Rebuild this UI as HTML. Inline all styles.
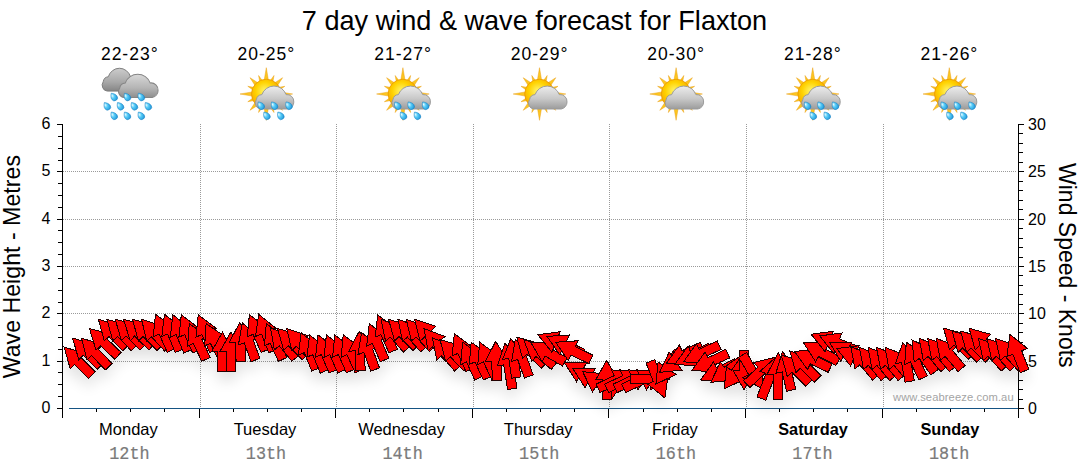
<!DOCTYPE html><html><head><meta charset="utf-8"><style>html,body{margin:0;padding:0;background:#fff;width:1080px;height:475px;overflow:hidden}svg{display:block}text{font-family:"Liberation Sans",sans-serif}</style></head><body>
<svg width="1080" height="475" viewBox="0 0 1080 475">
<defs>
<linearGradient id="cl" x1="0" y1="0" x2="0" y2="1"><stop offset="0" stop-color="#e6e6e6"/><stop offset="1" stop-color="#9a9a9a"/></linearGradient>
<linearGradient id="clb" x1="0" y1="0" x2="0" y2="1"><stop offset="0" stop-color="#b4b4b4"/><stop offset="1" stop-color="#7c7c7c"/></linearGradient>
<radialGradient id="sun" cx="0.45" cy="0.4" r="0.6"><stop offset="0" stop-color="#ffee30"/><stop offset="0.7" stop-color="#fbc80a"/><stop offset="1" stop-color="#f0a000"/></radialGradient>
<linearGradient id="ray" x1="0" y1="0" x2="0" y2="1"><stop offset="0" stop-color="#fde050"/><stop offset="1" stop-color="#f2a010"/></linearGradient>
<radialGradient id="drop" cx="0.4" cy="0.35" r="0.7"><stop offset="0" stop-color="#b8ecff"/><stop offset="0.5" stop-color="#38b8f0"/><stop offset="1" stop-color="#1480c0"/></radialGradient>
<filter id="shd" x="-20%" y="-50%" width="140%" height="200%"><feGaussianBlur stdDeviation="7"/></filter>
</defs>
<text x="534.5" y="29.6" font-size="27.1" text-anchor="middle" fill="#000">7 day wind &amp; wave forecast for Flaxton</text>
<text x="129.8" y="59.5" font-size="17.5" letter-spacing="1" text-anchor="middle" fill="#000">22-23°</text>
<text x="266.4" y="59.5" font-size="17.5" letter-spacing="1" text-anchor="middle" fill="#000">20-25°</text>
<text x="403.1" y="59.5" font-size="17.5" letter-spacing="1" text-anchor="middle" fill="#000">21-27°</text>
<text x="539.6" y="59.5" font-size="17.5" letter-spacing="1" text-anchor="middle" fill="#000">20-29°</text>
<text x="676.2" y="59.5" font-size="17.5" letter-spacing="1" text-anchor="middle" fill="#000">20-30°</text>
<text x="812.9" y="59.5" font-size="17.5" letter-spacing="1" text-anchor="middle" fill="#000">21-28°</text>
<text x="949.5" y="59.5" font-size="17.5" letter-spacing="1" text-anchor="middle" fill="#000">21-26°</text>
<path d="M63 361.5H1016 M63 313.5H1016 M63 266.5H1016 M63 219.5H1016 M63 171.5H1016 M200.5 124V408 M336.5 124V408 M473.5 124V408 M609.5 124V408 M746.5 124V408 M883.5 124V408" stroke="#9a9a9a" stroke-width="1" stroke-dasharray="1,1" fill="none"/>
<path d="M62.5 124V418 M57 408.5H62 M58 396.5H62 M58 384.5H62 M58 372.5H62 M57 361.5H62 M58 349.5H62 M58 337.5H62 M58 325.5H62 M57 313.5H62 M58 302.5H62 M58 290.5H62 M58 278.5H62 M57 266.5H62 M58 254.5H62 M58 242.5H62 M58 230.5H62 M57 219.5H62 M58 207.5H62 M58 195.5H62 M58 183.5H62 M57 171.5H62 M58 160.5H62 M58 148.5H62 M58 136.5H62 M57 124.5H62 M1018.5 124V408.5 M1019 408.5H1024 M1019 399.5H1023 M1019 389.5H1023 M1019 380.5H1023 M1019 370.5H1023 M1019 361.5H1024 M1019 351.5H1023 M1019 342.5H1023 M1019 332.5H1023 M1019 323.5H1023 M1019 313.5H1024 M1019 304.5H1023 M1019 294.5H1023 M1019 285.5H1023 M1019 275.5H1023 M1019 266.5H1024 M1019 257.5H1023 M1019 247.5H1023 M1019 238.5H1023 M1019 228.5H1023 M1019 219.5H1024 M1019 209.5H1023 M1019 200.5H1023 M1019 190.5H1023 M1019 181.5H1023 M1019 171.5H1024 M1019 162.5H1023 M1019 152.5H1023 M1019 143.5H1023 M1019 133.5H1023 M1019 124.5H1024 M62.5 408V418 M96.5 408V412 M130.5 408V412 M164.5 408V412 M199.5 408V418 M233.5 408V412 M267.5 408V412 M301.5 408V412 M335.5 408V418 M369.5 408V412 M403.5 408V412 M438.5 408V412 M472.5 408V418 M506.5 408V412 M540.5 408V412 M574.5 408V412 M608.5 408V418 M643.5 408V412 M677.5 408V412 M711.5 408V412 M745.5 408V418 M779.5 408V412 M813.5 408V412 M847.5 408V412 M882.5 408V418 M916.5 408V412 M950.5 408V412 M984.5 408V412 M1018.5 408V418" stroke="#000" stroke-width="1" fill="none"/>
<path d="M69 408.5H1018" stroke="#155383" stroke-width="1" fill="none"/>
<g filter="url(#shd)" opacity="0.12" transform="translate(0,9)"><path d="M64.2,347.2L85.7,353.3L81.3,357.7L95.3,371.8L88.7,378.5L74.6,364.4L70.2,368.8Z" fill="#000"/><path d="M72.6,338.2L94.2,344.0L89.8,348.5L104.0,362.5L97.4,369.2L83.2,355.2L78.8,359.7Z" fill="#000"/><path d="M81.6,338.2L103.0,344.8L98.4,349.1L112.1,363.6L105.3,370.0L91.6,355.6L87.1,359.9Z" fill="#000"/><path d="M89.5,328.6L111.2,334.1L106.8,338.7L121.2,352.4L114.7,359.2L100.3,345.5L96.0,350.0Z" fill="#000"/><path d="M98.4,319.3L119.9,325.4L115.4,329.9L129.4,344.0L122.8,350.6L108.8,336.5L104.3,340.9Z" fill="#000"/><path d="M106.9,319.3L128.4,325.4L124.0,329.8L138.0,344.0L131.3,350.6L117.3,336.5L112.8,340.9Z" fill="#000"/><path d="M115.2,319.3L136.8,325.0L132.5,329.5L146.7,343.4L140.2,350.1L125.9,336.2L121.5,340.7Z" fill="#000"/><path d="M123.6,319.3L145.3,324.8L141.0,329.4L155.4,343.1L148.9,349.9L134.5,336.2L130.1,340.7Z" fill="#000"/><path d="M132.4,319.3L154.0,325.2L149.6,329.7L163.7,343.7L157.1,350.4L142.9,336.4L138.5,340.9Z" fill="#000"/><path d="M141.5,319.3L162.8,326.1L158.2,330.3L171.8,344.9L164.9,351.3L151.4,336.8L146.8,341.1Z" fill="#000"/><path d="M155.5,314.3L173.4,327.7L167.7,330.2L175.8,348.4L167.2,352.2L159.1,334.0L153.3,336.6Z" fill="#000"/><path d="M164.5,314.3L182.1,328.1L176.3,330.5L183.9,348.9L175.2,352.5L167.6,334.1L161.8,336.5Z" fill="#000"/><path d="M172.9,314.8L190.6,328.6L184.8,331.0L192.5,349.3L183.8,353.0L176.1,334.6L170.3,337.1Z" fill="#000"/><path d="M181.3,314.8L199.1,328.4L193.3,330.9L201.2,349.1L192.6,352.9L184.7,334.6L178.9,337.1Z" fill="#000"/><path d="M189.3,323.6L207.5,336.7L201.8,339.3L210.2,357.4L201.7,361.3L193.3,343.3L187.6,346.0Z" fill="#000"/><path d="M198.2,314.8L216.1,328.2L210.4,330.7L218.4,348.9L209.8,352.7L201.8,334.5L196.0,337.1Z" fill="#000"/><path d="M206.1,323.6L224.5,336.3L218.8,339.1L227.5,357.0L219.1,361.1L210.4,343.2L204.7,345.9Z" fill="#000"/><path d="M222.5,332.2L233.5,351.7L227.2,351.7L227.2,371.6L217.8,371.6L217.8,351.7L211.5,351.7Z" fill="#000"/><path d="M230.8,332.2L241.8,351.7L235.5,351.7L235.5,371.6L226.1,371.6L226.1,351.7L219.8,351.7Z" fill="#000"/><path d="M239.8,322.5L251.3,341.7L245.0,341.9L245.5,361.8L236.1,362.0L235.6,342.1L229.3,342.3Z" fill="#000"/><path d="M242.3,322.9L259.2,337.7L253.2,339.8L259.8,358.5L251.0,361.6L244.3,342.9L238.4,345.0Z" fill="#000"/><path d="M249.4,314.6L267.4,328.0L261.6,330.5L269.7,348.7L261.1,352.5L253.0,334.3L247.2,336.9Z" fill="#000"/><path d="M258.7,314.3L276.1,328.4L270.2,330.7L277.5,349.2L268.8,352.7L261.5,334.1L255.6,336.4Z" fill="#000"/><path d="M266.3,323.6L284.4,336.8L278.7,339.4L286.9,357.5L278.4,361.4L270.1,343.3L264.4,345.9Z" fill="#000"/><path d="M270.5,327.8L291.4,335.9L286.5,339.9L299.1,355.2L291.9,361.2L279.2,345.8L274.4,349.8Z" fill="#000"/><path d="M277.6,328.6L299.2,334.6L294.7,339.0L308.8,353.1L302.1,359.8L288.1,345.7L283.6,350.1Z" fill="#000"/><path d="M286.8,328.7L308.1,335.6L303.4,339.9L316.8,354.6L309.9,360.9L296.5,346.2L291.8,350.5Z" fill="#000"/><path d="M301.1,332.8L318.7,346.6L312.9,349.0L320.5,367.4L311.8,371.0L304.2,352.6L298.4,355.0Z" fill="#000"/><path d="M309.6,334.9L327.2,348.7L321.4,351.1L329.0,369.5L320.3,373.1L312.7,354.7L306.9,357.1Z" fill="#000"/><path d="M318.0,334.9L335.7,348.5L329.9,351.0L337.7,369.3L329.1,373.0L321.3,354.7L315.5,357.1Z" fill="#000"/><path d="M326.4,334.9L344.2,348.4L338.5,350.9L346.4,369.2L337.7,372.9L329.8,354.7L324.0,357.2Z" fill="#000"/><path d="M334.8,334.9L352.7,348.3L347.0,350.8L355.0,369.0L346.4,372.8L338.4,354.6L332.6,357.2Z" fill="#000"/><path d="M343.2,334.9L361.2,348.2L355.5,350.8L363.7,368.9L355.1,372.8L346.9,354.7L341.2,357.2Z" fill="#000"/><path d="M359.2,331.3L370.8,350.5L364.5,350.7L365.2,370.5L355.8,370.8L355.1,350.9L348.8,351.1Z" fill="#000"/><path d="M361.6,332.5L378.6,347.0L372.7,349.2L379.5,367.9L370.7,371.1L363.9,352.4L358.0,354.6Z" fill="#000"/><path d="M369.3,323.6L387.0,337.4L381.2,339.8L388.8,358.2L380.2,361.8L372.5,343.4L366.7,345.9Z" fill="#000"/><path d="M377.7,314.8L395.5,328.4L389.7,330.9L397.5,349.2L388.9,352.9L381.0,334.6L375.3,337.0Z" fill="#000"/><path d="M381.0,319.4L402.1,326.8L397.4,331.0L410.5,345.9L403.4,352.1L390.3,337.1L385.6,341.3Z" fill="#000"/><path d="M388.6,319.4L410.2,325.4L405.7,329.8L419.8,343.9L413.1,350.6L399.1,336.5L394.6,340.9Z" fill="#000"/><path d="M397.9,319.4L419.1,326.6L414.4,330.8L427.7,345.6L420.7,351.9L407.4,337.1L402.7,341.3Z" fill="#000"/><path d="M406.3,319.4L427.6,326.3L422.9,330.6L436.4,345.2L429.4,351.6L416.0,336.9L411.4,341.2Z" fill="#000"/><path d="M414.7,319.4L436.0,326.2L431.4,330.4L445.0,345.0L438.1,351.4L424.6,336.9L420.0,341.2Z" fill="#000"/><path d="M424.0,328.6L445.0,336.5L440.1,340.5L452.9,355.8L445.7,361.8L432.9,346.6L428.1,350.6Z" fill="#000"/><path d="M432.4,337.9L453.4,345.6L448.6,349.7L461.6,364.8L454.5,370.9L441.5,355.8L436.7,359.9Z" fill="#000"/><path d="M440.0,339.6L461.5,345.9L457.0,350.3L470.9,364.5L464.1,371.1L450.2,356.8L445.7,361.2Z" fill="#000"/><path d="M454.3,333.7L472.3,347.1L466.5,349.6L474.6,367.8L466.0,371.6L457.9,353.4L452.1,356.0Z" fill="#000"/><path d="M462.6,342.2L480.7,355.3L475.0,358.0L483.3,376.1L474.7,380.0L466.5,361.9L460.7,364.5Z" fill="#000"/><path d="M471.2,342.2L489.3,355.3L483.6,358.0L491.8,376.1L483.3,380.0L475.0,361.9L469.3,364.5Z" fill="#000"/><path d="M479.7,342.2L497.8,355.3L492.1,358.0L500.4,376.1L491.8,380.0L483.5,361.9L477.8,364.5Z" fill="#000"/><path d="M495.7,341.3L507.4,360.4L501.1,360.6L501.8,380.5L492.4,380.9L491.7,361.0L485.4,361.2Z" fill="#000"/><path d="M505.1,343.2L519.2,362.4L513.0,363.4L516.9,388.0L507.6,389.5L503.7,364.9L497.5,365.9Z" fill="#000"/><path d="M510.8,338.5L524.4,356.3L518.1,357.1L520.9,376.9L511.6,378.2L508.8,358.5L502.6,359.3Z" fill="#000"/><path d="M515.3,339.5L532.3,354.0L526.4,356.2L533.2,374.9L524.4,378.1L517.6,359.4L511.6,361.6Z" fill="#000"/><path d="M516.7,337.1L538.2,343.1L533.8,347.5L547.8,361.6L541.2,368.3L527.1,354.2L522.7,358.6Z" fill="#000"/><path d="M524.0,340.3L546.0,344.4L542.0,349.3L557.2,362.1L551.2,369.3L535.9,356.5L531.9,361.3Z" fill="#000"/><path d="M530.6,342.1L553.0,342.4L549.8,347.8L567.1,357.8L562.4,365.9L545.1,356.0L542.0,361.4Z" fill="#000"/><path d="M537.9,334.7L560.1,331.8L557.8,337.7L576.2,345.1L572.7,353.8L554.3,346.4L551.9,352.2Z" fill="#000"/><path d="M547.0,336.4L569.4,335.0L566.6,340.7L584.5,349.4L580.4,357.9L562.5,349.1L559.7,354.8Z" fill="#000"/><path d="M555.6,342.2L577.9,340.8L575.2,346.5L593.0,355.2L588.9,363.7L571.0,354.9L568.3,360.6Z" fill="#000"/><path d="M564.4,362.8L586.8,362.2L583.8,367.8L601.4,377.1L597.0,385.4L579.4,376.1L576.5,381.6Z" fill="#000"/><path d="M573.0,368.8L595.3,368.2L592.4,373.8L609.9,383.1L605.5,391.4L588.0,382.1L585.0,387.6Z" fill="#000"/><path d="M582.7,371.7L605.0,373.9L601.4,379.0L617.7,390.4L612.3,398.1L596.0,386.7L592.4,391.9Z" fill="#000"/><path d="M606.7,360.3L617.7,379.8L611.4,379.8L611.4,399.7L602.0,399.7L602.0,379.8L595.7,379.8Z" fill="#000"/><path d="M633.8,371.7L620.8,389.9L618.1,384.2L600.1,392.6L596.1,384.1L614.2,375.7L611.5,369.9Z" fill="#000"/><path d="M642.4,371.7L629.3,389.9L626.7,384.2L608.6,392.6L604.7,384.1L622.7,375.7L620.0,369.9Z" fill="#000"/><path d="M650.9,371.7L637.9,389.9L635.2,384.2L617.2,392.6L613.2,384.1L631.2,375.7L628.6,369.9Z" fill="#000"/><path d="M659.4,371.7L646.4,389.9L643.7,384.2L625.7,392.6L621.7,384.1L639.8,375.7L637.1,369.9Z" fill="#000"/><path d="M669.8,379.0L650.3,390.0L650.3,383.7L630.4,383.7L630.4,374.3L650.3,374.3L650.3,368.0Z" fill="#000"/><path d="M664.9,398.0L647.5,383.9L653.3,381.6L646.1,363.1L654.8,359.6L662.1,378.2L668.0,375.9Z" fill="#000"/><path d="M655.9,384.1L658.1,361.9L663.2,365.5L674.6,349.2L682.3,354.6L670.9,370.9L676.1,374.5Z" fill="#000"/><path d="M659.6,372.3L669.2,352.1L672.9,357.3L689.2,345.9L694.6,353.6L678.3,365.0L681.9,370.1Z" fill="#000"/><path d="M666.4,363.3L679.4,345.1L682.1,350.8L700.1,342.4L704.1,350.9L686.1,359.3L688.7,365.1Z" fill="#000"/><path d="M674.9,364.3L688.0,346.1L690.6,351.8L708.7,343.4L712.6,351.9L694.6,360.3L697.3,366.1Z" fill="#000"/><path d="M683.5,361.8L696.5,343.6L699.2,349.3L717.2,340.9L721.2,349.4L703.1,357.8L705.8,363.6Z" fill="#000"/><path d="M692.0,370.3L705.0,352.1L707.7,357.8L725.7,349.4L729.7,357.9L711.7,366.3L714.3,372.1Z" fill="#000"/><path d="M700.6,380.0L713.6,361.8L716.2,367.5L734.3,359.1L738.3,367.6L720.2,376.0L722.9,381.8Z" fill="#000"/><path d="M710.8,382.3L720.5,362.1L724.1,367.3L740.4,355.9L745.8,363.6L729.5,375.0L733.1,380.1Z" fill="#000"/><path d="M724.2,388.9L726.4,366.7L731.5,370.3L742.9,354.0L750.6,359.4L739.2,375.7L744.4,379.3Z" fill="#000"/><path d="M744.0,389.7L733.0,370.2L739.3,370.2L739.3,350.3L748.7,350.3L748.7,370.2L755.0,370.2Z" fill="#000"/><path d="M762.4,389.1L743.1,377.7L748.6,374.5L738.6,357.3L746.8,352.6L756.7,369.8L762.2,366.7Z" fill="#000"/><path d="M775.5,357.3L768.7,378.6L764.4,374.0L749.9,387.6L743.5,380.7L758.0,367.1L753.7,362.5Z" fill="#000"/><path d="M777.9,355.5L780.6,379.2L774.7,376.9L765.8,400.2L757.0,396.8L765.9,373.5L760.0,371.3Z" fill="#000"/><path d="M778.2,352.8L789.2,374.0L782.9,374.0L782.9,399.2L773.5,399.2L773.5,374.0L767.2,374.0Z" fill="#000"/><path d="M782.3,351.8L797.4,368.3L791.2,369.7L795.7,389.1L786.6,391.3L782.1,371.9L775.9,373.3Z" fill="#000"/><path d="M781.3,355.1L802.9,361.1L798.4,365.5L812.5,379.6L805.9,386.3L791.8,372.2L787.3,376.6Z" fill="#000"/><path d="M789.9,351.1L811.4,357.1L807.0,361.5L821.0,375.6L814.4,382.3L800.3,368.2L795.9,372.6Z" fill="#000"/><path d="M794.5,351.4L816.8,349.6L814.1,355.4L832.2,363.8L828.2,372.3L810.2,363.9L807.5,369.6Z" fill="#000"/><path d="M803.5,342.8L825.8,342.2L822.9,347.8L840.5,357.1L836.0,365.4L818.5,356.1L815.5,361.6Z" fill="#000"/><path d="M811.1,334.2L833.3,331.3L831.0,337.2L849.4,344.6L845.9,353.3L827.5,345.9L825.1,351.7Z" fill="#000"/><path d="M819.7,335.9L841.9,333.0L839.5,338.9L858.0,346.3L854.4,355.0L836.0,347.6L833.6,353.4Z" fill="#000"/><path d="M829.4,342.1L851.8,342.4L848.6,347.8L865.9,357.8L861.2,365.9L843.9,356.0L840.8,361.4Z" fill="#000"/><path d="M836.7,348.6L858.9,345.7L856.6,351.6L875.0,359.0L871.5,367.7L853.1,360.3L850.7,366.1Z" fill="#000"/><path d="M850.9,346.9L871.8,354.8L867.0,358.8L879.8,374.1L872.6,380.1L859.8,364.9L855.0,368.9Z" fill="#000"/><path d="M859.4,347.4L880.4,355.3L875.6,359.3L888.3,374.6L881.1,380.6L868.4,365.4L863.5,369.4Z" fill="#000"/><path d="M868.0,347.4L888.9,355.3L884.1,359.3L896.9,374.6L889.7,380.6L876.9,365.4L872.1,369.4Z" fill="#000"/><path d="M876.5,347.4L897.5,355.3L892.6,359.3L905.4,374.6L898.2,380.6L885.4,365.4L880.6,369.4Z" fill="#000"/><path d="M885.0,347.4L906.0,355.3L901.2,359.3L914.0,374.6L906.8,380.6L894.0,365.4L889.1,369.4Z" fill="#000"/><path d="M902.8,342.6L917.0,359.9L910.8,361.0L914.3,380.6L905.0,382.2L901.6,362.6L895.4,363.7Z" fill="#000"/><path d="M906.4,342.1L924.7,355.2L918.9,357.8L927.4,375.9L918.8,379.8L910.4,361.8L904.7,364.5Z" fill="#000"/><path d="M912.0,339.9L932.2,349.5L927.0,353.1L938.5,369.4L930.8,374.8L919.3,358.5L914.2,362.1Z" fill="#000"/><path d="M919.2,338.4L940.1,346.3L935.3,350.3L948.1,365.6L940.9,371.6L928.1,356.4L923.3,360.4Z" fill="#000"/><path d="M927.7,338.4L948.7,346.3L943.9,350.3L956.6,365.6L949.4,371.6L936.7,356.4L931.8,360.4Z" fill="#000"/><path d="M936.3,338.4L957.2,346.3L952.4,350.3L965.2,365.6L958.0,371.6L945.2,356.4L940.4,360.4Z" fill="#000"/><path d="M943.5,328.1L965.1,334.1L960.6,338.5L974.7,352.6L968.1,359.3L954.0,345.2L949.5,349.6Z" fill="#000"/><path d="M952.1,331.1L973.6,337.1L969.2,341.5L983.3,355.6L976.6,362.3L962.5,348.2L958.1,352.6Z" fill="#000"/><path d="M960.6,331.1L982.2,337.1L977.7,341.5L991.8,355.6L985.1,362.3L971.1,348.2L966.6,352.6Z" fill="#000"/><path d="M969.1,328.3L990.7,334.3L986.3,338.7L1000.3,352.8L993.7,359.5L979.6,345.4L975.2,349.8Z" fill="#000"/><path d="M978.4,338.6L999.7,345.7L995.0,349.9L1008.3,364.7L1001.3,371.0L988.0,356.2L983.3,360.4Z" fill="#000"/><path d="M987.0,338.6L1008.2,345.7L1003.5,349.9L1016.8,364.7L1009.8,371.0L996.5,356.2L991.8,360.4Z" fill="#000"/><path d="M995.5,338.6L1016.7,345.7L1012.0,349.9L1025.4,364.7L1018.4,371.0L1005.1,356.2L1000.4,360.4Z" fill="#000"/><path d="M1009.9,334.4L1027.4,348.4L1021.5,350.8L1028.9,369.2L1020.2,372.7L1012.8,354.3L1006.9,356.6Z" fill="#000"/></g>
<g fill="#ff0000" stroke="#220000" stroke-width="1" stroke-linejoin="miter" shape-rendering="crispEdges"><path d="M64.2,347.2L85.7,353.3L81.3,357.7L95.3,371.8L88.7,378.5L74.6,364.4L70.2,368.8Z"/><path d="M72.6,338.2L94.2,344.0L89.8,348.5L104.0,362.5L97.4,369.2L83.2,355.2L78.8,359.7Z"/><path d="M81.6,338.2L103.0,344.8L98.4,349.1L112.1,363.6L105.3,370.0L91.6,355.6L87.1,359.9Z"/><path d="M89.5,328.6L111.2,334.1L106.8,338.7L121.2,352.4L114.7,359.2L100.3,345.5L96.0,350.0Z"/><path d="M98.4,319.3L119.9,325.4L115.4,329.9L129.4,344.0L122.8,350.6L108.8,336.5L104.3,340.9Z"/><path d="M106.9,319.3L128.4,325.4L124.0,329.8L138.0,344.0L131.3,350.6L117.3,336.5L112.8,340.9Z"/><path d="M115.2,319.3L136.8,325.0L132.5,329.5L146.7,343.4L140.2,350.1L125.9,336.2L121.5,340.7Z"/><path d="M123.6,319.3L145.3,324.8L141.0,329.4L155.4,343.1L148.9,349.9L134.5,336.2L130.1,340.7Z"/><path d="M132.4,319.3L154.0,325.2L149.6,329.7L163.7,343.7L157.1,350.4L142.9,336.4L138.5,340.9Z"/><path d="M141.5,319.3L162.8,326.1L158.2,330.3L171.8,344.9L164.9,351.3L151.4,336.8L146.8,341.1Z"/><path d="M155.5,314.3L173.4,327.7L167.7,330.2L175.8,348.4L167.2,352.2L159.1,334.0L153.3,336.6Z"/><path d="M164.5,314.3L182.1,328.1L176.3,330.5L183.9,348.9L175.2,352.5L167.6,334.1L161.8,336.5Z"/><path d="M172.9,314.8L190.6,328.6L184.8,331.0L192.5,349.3L183.8,353.0L176.1,334.6L170.3,337.1Z"/><path d="M181.3,314.8L199.1,328.4L193.3,330.9L201.2,349.1L192.6,352.9L184.7,334.6L178.9,337.1Z"/><path d="M189.3,323.6L207.5,336.7L201.8,339.3L210.2,357.4L201.7,361.3L193.3,343.3L187.6,346.0Z"/><path d="M198.2,314.8L216.1,328.2L210.4,330.7L218.4,348.9L209.8,352.7L201.8,334.5L196.0,337.1Z"/><path d="M206.1,323.6L224.5,336.3L218.8,339.1L227.5,357.0L219.1,361.1L210.4,343.2L204.7,345.9Z"/><path d="M222.5,332.2L233.5,351.7L227.2,351.7L227.2,371.6L217.8,371.6L217.8,351.7L211.5,351.7Z"/><path d="M230.8,332.2L241.8,351.7L235.5,351.7L235.5,371.6L226.1,371.6L226.1,351.7L219.8,351.7Z"/><path d="M239.8,322.5L251.3,341.7L245.0,341.9L245.5,361.8L236.1,362.0L235.6,342.1L229.3,342.3Z"/><path d="M242.3,322.9L259.2,337.7L253.2,339.8L259.8,358.5L251.0,361.6L244.3,342.9L238.4,345.0Z"/><path d="M249.4,314.6L267.4,328.0L261.6,330.5L269.7,348.7L261.1,352.5L253.0,334.3L247.2,336.9Z"/><path d="M258.7,314.3L276.1,328.4L270.2,330.7L277.5,349.2L268.8,352.7L261.5,334.1L255.6,336.4Z"/><path d="M266.3,323.6L284.4,336.8L278.7,339.4L286.9,357.5L278.4,361.4L270.1,343.3L264.4,345.9Z"/><path d="M270.5,327.8L291.4,335.9L286.5,339.9L299.1,355.2L291.9,361.2L279.2,345.8L274.4,349.8Z"/><path d="M277.6,328.6L299.2,334.6L294.7,339.0L308.8,353.1L302.1,359.8L288.1,345.7L283.6,350.1Z"/><path d="M286.8,328.7L308.1,335.6L303.4,339.9L316.8,354.6L309.9,360.9L296.5,346.2L291.8,350.5Z"/><path d="M301.1,332.8L318.7,346.6L312.9,349.0L320.5,367.4L311.8,371.0L304.2,352.6L298.4,355.0Z"/><path d="M309.6,334.9L327.2,348.7L321.4,351.1L329.0,369.5L320.3,373.1L312.7,354.7L306.9,357.1Z"/><path d="M318.0,334.9L335.7,348.5L329.9,351.0L337.7,369.3L329.1,373.0L321.3,354.7L315.5,357.1Z"/><path d="M326.4,334.9L344.2,348.4L338.5,350.9L346.4,369.2L337.7,372.9L329.8,354.7L324.0,357.2Z"/><path d="M334.8,334.9L352.7,348.3L347.0,350.8L355.0,369.0L346.4,372.8L338.4,354.6L332.6,357.2Z"/><path d="M343.2,334.9L361.2,348.2L355.5,350.8L363.7,368.9L355.1,372.8L346.9,354.7L341.2,357.2Z"/><path d="M359.2,331.3L370.8,350.5L364.5,350.7L365.2,370.5L355.8,370.8L355.1,350.9L348.8,351.1Z"/><path d="M361.6,332.5L378.6,347.0L372.7,349.2L379.5,367.9L370.7,371.1L363.9,352.4L358.0,354.6Z"/><path d="M369.3,323.6L387.0,337.4L381.2,339.8L388.8,358.2L380.2,361.8L372.5,343.4L366.7,345.9Z"/><path d="M377.7,314.8L395.5,328.4L389.7,330.9L397.5,349.2L388.9,352.9L381.0,334.6L375.3,337.0Z"/><path d="M381.0,319.4L402.1,326.8L397.4,331.0L410.5,345.9L403.4,352.1L390.3,337.1L385.6,341.3Z"/><path d="M388.6,319.4L410.2,325.4L405.7,329.8L419.8,343.9L413.1,350.6L399.1,336.5L394.6,340.9Z"/><path d="M397.9,319.4L419.1,326.6L414.4,330.8L427.7,345.6L420.7,351.9L407.4,337.1L402.7,341.3Z"/><path d="M406.3,319.4L427.6,326.3L422.9,330.6L436.4,345.2L429.4,351.6L416.0,336.9L411.4,341.2Z"/><path d="M414.7,319.4L436.0,326.2L431.4,330.4L445.0,345.0L438.1,351.4L424.6,336.9L420.0,341.2Z"/><path d="M424.0,328.6L445.0,336.5L440.1,340.5L452.9,355.8L445.7,361.8L432.9,346.6L428.1,350.6Z"/><path d="M432.4,337.9L453.4,345.6L448.6,349.7L461.6,364.8L454.5,370.9L441.5,355.8L436.7,359.9Z"/><path d="M440.0,339.6L461.5,345.9L457.0,350.3L470.9,364.5L464.1,371.1L450.2,356.8L445.7,361.2Z"/><path d="M454.3,333.7L472.3,347.1L466.5,349.6L474.6,367.8L466.0,371.6L457.9,353.4L452.1,356.0Z"/><path d="M462.6,342.2L480.7,355.3L475.0,358.0L483.3,376.1L474.7,380.0L466.5,361.9L460.7,364.5Z"/><path d="M471.2,342.2L489.3,355.3L483.6,358.0L491.8,376.1L483.3,380.0L475.0,361.9L469.3,364.5Z"/><path d="M479.7,342.2L497.8,355.3L492.1,358.0L500.4,376.1L491.8,380.0L483.5,361.9L477.8,364.5Z"/><path d="M495.7,341.3L507.4,360.4L501.1,360.6L501.8,380.5L492.4,380.9L491.7,361.0L485.4,361.2Z"/><path d="M505.1,343.2L519.2,362.4L513.0,363.4L516.9,388.0L507.6,389.5L503.7,364.9L497.5,365.9Z"/><path d="M510.8,338.5L524.4,356.3L518.1,357.1L520.9,376.9L511.6,378.2L508.8,358.5L502.6,359.3Z"/><path d="M515.3,339.5L532.3,354.0L526.4,356.2L533.2,374.9L524.4,378.1L517.6,359.4L511.6,361.6Z"/><path d="M516.7,337.1L538.2,343.1L533.8,347.5L547.8,361.6L541.2,368.3L527.1,354.2L522.7,358.6Z"/><path d="M524.0,340.3L546.0,344.4L542.0,349.3L557.2,362.1L551.2,369.3L535.9,356.5L531.9,361.3Z"/><path d="M530.6,342.1L553.0,342.4L549.8,347.8L567.1,357.8L562.4,365.9L545.1,356.0L542.0,361.4Z"/><path d="M537.9,334.7L560.1,331.8L557.8,337.7L576.2,345.1L572.7,353.8L554.3,346.4L551.9,352.2Z"/><path d="M547.0,336.4L569.4,335.0L566.6,340.7L584.5,349.4L580.4,357.9L562.5,349.1L559.7,354.8Z"/><path d="M555.6,342.2L577.9,340.8L575.2,346.5L593.0,355.2L588.9,363.7L571.0,354.9L568.3,360.6Z"/><path d="M564.4,362.8L586.8,362.2L583.8,367.8L601.4,377.1L597.0,385.4L579.4,376.1L576.5,381.6Z"/><path d="M573.0,368.8L595.3,368.2L592.4,373.8L609.9,383.1L605.5,391.4L588.0,382.1L585.0,387.6Z"/><path d="M582.7,371.7L605.0,373.9L601.4,379.0L617.7,390.4L612.3,398.1L596.0,386.7L592.4,391.9Z"/><path d="M606.7,360.3L617.7,379.8L611.4,379.8L611.4,399.7L602.0,399.7L602.0,379.8L595.7,379.8Z"/><path d="M633.8,371.7L620.8,389.9L618.1,384.2L600.1,392.6L596.1,384.1L614.2,375.7L611.5,369.9Z"/><path d="M642.4,371.7L629.3,389.9L626.7,384.2L608.6,392.6L604.7,384.1L622.7,375.7L620.0,369.9Z"/><path d="M650.9,371.7L637.9,389.9L635.2,384.2L617.2,392.6L613.2,384.1L631.2,375.7L628.6,369.9Z"/><path d="M659.4,371.7L646.4,389.9L643.7,384.2L625.7,392.6L621.7,384.1L639.8,375.7L637.1,369.9Z"/><path d="M669.8,379.0L650.3,390.0L650.3,383.7L630.4,383.7L630.4,374.3L650.3,374.3L650.3,368.0Z"/><path d="M664.9,398.0L647.5,383.9L653.3,381.6L646.1,363.1L654.8,359.6L662.1,378.2L668.0,375.9Z"/><path d="M655.9,384.1L658.1,361.9L663.2,365.5L674.6,349.2L682.3,354.6L670.9,370.9L676.1,374.5Z"/><path d="M659.6,372.3L669.2,352.1L672.9,357.3L689.2,345.9L694.6,353.6L678.3,365.0L681.9,370.1Z"/><path d="M666.4,363.3L679.4,345.1L682.1,350.8L700.1,342.4L704.1,350.9L686.1,359.3L688.7,365.1Z"/><path d="M674.9,364.3L688.0,346.1L690.6,351.8L708.7,343.4L712.6,351.9L694.6,360.3L697.3,366.1Z"/><path d="M683.5,361.8L696.5,343.6L699.2,349.3L717.2,340.9L721.2,349.4L703.1,357.8L705.8,363.6Z"/><path d="M692.0,370.3L705.0,352.1L707.7,357.8L725.7,349.4L729.7,357.9L711.7,366.3L714.3,372.1Z"/><path d="M700.6,380.0L713.6,361.8L716.2,367.5L734.3,359.1L738.3,367.6L720.2,376.0L722.9,381.8Z"/><path d="M710.8,382.3L720.5,362.1L724.1,367.3L740.4,355.9L745.8,363.6L729.5,375.0L733.1,380.1Z"/><path d="M724.2,388.9L726.4,366.7L731.5,370.3L742.9,354.0L750.6,359.4L739.2,375.7L744.4,379.3Z"/><path d="M744.0,389.7L733.0,370.2L739.3,370.2L739.3,350.3L748.7,350.3L748.7,370.2L755.0,370.2Z"/><path d="M762.4,389.1L743.1,377.7L748.6,374.5L738.6,357.3L746.8,352.6L756.7,369.8L762.2,366.7Z"/><path d="M775.5,357.3L768.7,378.6L764.4,374.0L749.9,387.6L743.5,380.7L758.0,367.1L753.7,362.5Z"/><path d="M777.9,355.5L780.6,379.2L774.7,376.9L765.8,400.2L757.0,396.8L765.9,373.5L760.0,371.3Z"/><path d="M778.2,352.8L789.2,374.0L782.9,374.0L782.9,399.2L773.5,399.2L773.5,374.0L767.2,374.0Z"/><path d="M782.3,351.8L797.4,368.3L791.2,369.7L795.7,389.1L786.6,391.3L782.1,371.9L775.9,373.3Z"/><path d="M781.3,355.1L802.9,361.1L798.4,365.5L812.5,379.6L805.9,386.3L791.8,372.2L787.3,376.6Z"/><path d="M789.9,351.1L811.4,357.1L807.0,361.5L821.0,375.6L814.4,382.3L800.3,368.2L795.9,372.6Z"/><path d="M794.5,351.4L816.8,349.6L814.1,355.4L832.2,363.8L828.2,372.3L810.2,363.9L807.5,369.6Z"/><path d="M803.5,342.8L825.8,342.2L822.9,347.8L840.5,357.1L836.0,365.4L818.5,356.1L815.5,361.6Z"/><path d="M811.1,334.2L833.3,331.3L831.0,337.2L849.4,344.6L845.9,353.3L827.5,345.9L825.1,351.7Z"/><path d="M819.7,335.9L841.9,333.0L839.5,338.9L858.0,346.3L854.4,355.0L836.0,347.6L833.6,353.4Z"/><path d="M829.4,342.1L851.8,342.4L848.6,347.8L865.9,357.8L861.2,365.9L843.9,356.0L840.8,361.4Z"/><path d="M836.7,348.6L858.9,345.7L856.6,351.6L875.0,359.0L871.5,367.7L853.1,360.3L850.7,366.1Z"/><path d="M850.9,346.9L871.8,354.8L867.0,358.8L879.8,374.1L872.6,380.1L859.8,364.9L855.0,368.9Z"/><path d="M859.4,347.4L880.4,355.3L875.6,359.3L888.3,374.6L881.1,380.6L868.4,365.4L863.5,369.4Z"/><path d="M868.0,347.4L888.9,355.3L884.1,359.3L896.9,374.6L889.7,380.6L876.9,365.4L872.1,369.4Z"/><path d="M876.5,347.4L897.5,355.3L892.6,359.3L905.4,374.6L898.2,380.6L885.4,365.4L880.6,369.4Z"/><path d="M885.0,347.4L906.0,355.3L901.2,359.3L914.0,374.6L906.8,380.6L894.0,365.4L889.1,369.4Z"/><path d="M902.8,342.6L917.0,359.9L910.8,361.0L914.3,380.6L905.0,382.2L901.6,362.6L895.4,363.7Z"/><path d="M906.4,342.1L924.7,355.2L918.9,357.8L927.4,375.9L918.8,379.8L910.4,361.8L904.7,364.5Z"/><path d="M912.0,339.9L932.2,349.5L927.0,353.1L938.5,369.4L930.8,374.8L919.3,358.5L914.2,362.1Z"/><path d="M919.2,338.4L940.1,346.3L935.3,350.3L948.1,365.6L940.9,371.6L928.1,356.4L923.3,360.4Z"/><path d="M927.7,338.4L948.7,346.3L943.9,350.3L956.6,365.6L949.4,371.6L936.7,356.4L931.8,360.4Z"/><path d="M936.3,338.4L957.2,346.3L952.4,350.3L965.2,365.6L958.0,371.6L945.2,356.4L940.4,360.4Z"/><path d="M943.5,328.1L965.1,334.1L960.6,338.5L974.7,352.6L968.1,359.3L954.0,345.2L949.5,349.6Z"/><path d="M952.1,331.1L973.6,337.1L969.2,341.5L983.3,355.6L976.6,362.3L962.5,348.2L958.1,352.6Z"/><path d="M960.6,331.1L982.2,337.1L977.7,341.5L991.8,355.6L985.1,362.3L971.1,348.2L966.6,352.6Z"/><path d="M969.1,328.3L990.7,334.3L986.3,338.7L1000.3,352.8L993.7,359.5L979.6,345.4L975.2,349.8Z"/><path d="M978.4,338.6L999.7,345.7L995.0,349.9L1008.3,364.7L1001.3,371.0L988.0,356.2L983.3,360.4Z"/><path d="M987.0,338.6L1008.2,345.7L1003.5,349.9L1016.8,364.7L1009.8,371.0L996.5,356.2L991.8,360.4Z"/><path d="M995.5,338.6L1016.7,345.7L1012.0,349.9L1025.4,364.7L1018.4,371.0L1005.1,356.2L1000.4,360.4Z"/><path d="M1009.9,334.4L1027.4,348.4L1021.5,350.8L1028.9,369.2L1020.2,372.7L1012.8,354.3L1006.9,356.6Z"/></g>
<text x="50.5" y="412.8" font-size="16" text-anchor="end" fill="#000">0</text>
<text x="50.5" y="365.5" font-size="16" text-anchor="end" fill="#000">1</text>
<text x="50.5" y="318.1" font-size="16" text-anchor="end" fill="#000">2</text>
<text x="50.5" y="270.8" font-size="16" text-anchor="end" fill="#000">3</text>
<text x="50.5" y="223.5" font-size="16" text-anchor="end" fill="#000">4</text>
<text x="50.5" y="176.1" font-size="16" text-anchor="end" fill="#000">5</text>
<text x="50.5" y="128.8" font-size="16" text-anchor="end" fill="#000">6</text>
<text x="1028" y="413.8" font-size="16" fill="#000">0</text>
<text x="1028" y="366.5" font-size="16" fill="#000">5</text>
<text x="1028" y="319.1" font-size="16" fill="#000">10</text>
<text x="1028" y="271.8" font-size="16" fill="#000">15</text>
<text x="1028" y="224.5" font-size="16" fill="#000">20</text>
<text x="1028" y="177.1" font-size="16" fill="#000">25</text>
<text x="1028" y="129.8" font-size="16" fill="#000">30</text>
<text transform="translate(20.4,266.7) rotate(-90)" font-size="23.2" text-anchor="middle" fill="#000">Wave Height - Metres</text>
<text transform="translate(1059,265.3) rotate(90)" font-size="23" text-anchor="middle" fill="#000">Wind Speed - Knots</text>
<text x="128.4" y="434.9" font-size="16.5" text-anchor="middle" fill="#000">Monday</text>
<text transform="translate(129.4,459) scale(1,1.12)" font-family="Liberation Mono" style="font-family:'Liberation Mono',monospace" font-size="16.8" text-anchor="middle" fill="#7a7a7a" stroke="#7a7a7a" stroke-width="0.2">12th</text>
<text x="265.0" y="434.9" font-size="16.5" text-anchor="middle" fill="#000">Tuesday</text>
<text transform="translate(266.0,459) scale(1,1.12)" font-family="Liberation Mono" style="font-family:'Liberation Mono',monospace" font-size="16.8" text-anchor="middle" fill="#7a7a7a" stroke="#7a7a7a" stroke-width="0.2">13th</text>
<text x="401.6" y="434.9" font-size="16.5" text-anchor="middle" fill="#000">Wednesday</text>
<text transform="translate(402.6,459) scale(1,1.12)" font-family="Liberation Mono" style="font-family:'Liberation Mono',monospace" font-size="16.8" text-anchor="middle" fill="#7a7a7a" stroke="#7a7a7a" stroke-width="0.2">14th</text>
<text x="538.2" y="434.9" font-size="16.5" text-anchor="middle" fill="#000">Thursday</text>
<text transform="translate(539.2,459) scale(1,1.12)" font-family="Liberation Mono" style="font-family:'Liberation Mono',monospace" font-size="16.8" text-anchor="middle" fill="#7a7a7a" stroke="#7a7a7a" stroke-width="0.2">15th</text>
<text x="674.9" y="434.9" font-size="16.5" text-anchor="middle" fill="#000">Friday</text>
<text transform="translate(675.9,459) scale(1,1.12)" font-family="Liberation Mono" style="font-family:'Liberation Mono',monospace" font-size="16.8" text-anchor="middle" fill="#7a7a7a" stroke="#7a7a7a" stroke-width="0.2">16th</text>
<text x="813.1" y="434.9" font-size="16.3" text-anchor="middle" fill="#000" font-weight="bold">Saturday</text>
<text transform="translate(812.5,459) scale(1,1.12)" font-family="Liberation Mono" style="font-family:'Liberation Mono',monospace" font-size="16.8" text-anchor="middle" fill="#7a7a7a" stroke="#7a7a7a" stroke-width="0.2">17th</text>
<text x="949.8" y="434.9" font-size="16.3" text-anchor="middle" fill="#000" font-weight="bold">Sunday</text>
<text transform="translate(949.1,459) scale(1,1.12)" font-family="Liberation Mono" style="font-family:'Liberation Mono',monospace" font-size="16.8" text-anchor="middle" fill="#7a7a7a" stroke="#7a7a7a" stroke-width="0.2">18th</text>
<text x="893" y="401" font-size="11.2" fill="#a4a4a4" letter-spacing="0.1">www.seabreeze.com.au</text>
<defs>
<linearGradient id="cg" x1="0" y1="0" x2="0" y2="1"><stop offset="0" stop-color="#ececec"/><stop offset="0.55" stop-color="#c8c8c8"/><stop offset="1" stop-color="#9c9c9c"/></linearGradient>
<linearGradient id="cgd" x1="0" y1="0" x2="0" y2="1"><stop offset="0" stop-color="#cccccc"/><stop offset="0.6" stop-color="#a8a8a8"/><stop offset="1" stop-color="#858585"/></linearGradient>
<linearGradient id="cgm" x1="0" y1="0" x2="0" y2="1"><stop offset="0" stop-color="#d8d8d8"/><stop offset="0.6" stop-color="#b4b4b4"/><stop offset="1" stop-color="#8e8e8e"/></linearGradient>
<radialGradient id="sg" cx="0.45" cy="0.4" r="0.62"><stop offset="0" stop-color="#fff66e"/><stop offset="0.5" stop-color="#ffd200"/><stop offset="1" stop-color="#f39c00"/></radialGradient>
<radialGradient id="dg" cx="0.38" cy="0.3" r="0.8"><stop offset="0" stop-color="#e6fbff"/><stop offset="0.4" stop-color="#58cdf8"/><stop offset="1" stop-color="#1a8fd4"/></radialGradient>
</defs>
<g transform="translate(102.3,68.4) scale(0.913,0.987)"><path d="M5.5,23 A6,6 0 0 1 1,13.5 A6,6 0 0 1 6.5,8.5 A13,13 0 0 1 31,8.5 A7,7 0 0 1 38.8,16 A7,7 0 0 1 33,23 Z" fill="url(#cgd)" stroke="#7a7a7a" stroke-width="1"/></g>
<g transform="translate(118.7,74.4) scale(1.015,1.004)"><path d="M5.5,23 A6,6 0 0 1 1,13.5 A6,6 0 0 1 6.5,8.5 A13,13 0 0 1 31,8.5 A7,7 0 0 1 38.8,16 A7,7 0 0 1 33,23 Z" fill="url(#cgm)" stroke="#858585" stroke-width="1"/></g>
<g transform="translate(113.9,97.0) rotate(-35)"><path d="M0,-4.6 C1.6,-3.2 3.1,-1.2 3.1,0.9 A3.1,3.1 0 0 1 -3.1,0.9 C-3.1,-1.2 -1.6,-3.2 0,-4.6 Z" fill="url(#dg)" stroke="#1d84c4" stroke-width="0.5"/></g>
<g transform="translate(127.1,97.0) rotate(-35)"><path d="M0,-4.6 C1.6,-3.2 3.1,-1.2 3.1,0.9 A3.1,3.1 0 0 1 -3.1,0.9 C-3.1,-1.2 -1.6,-3.2 0,-4.6 Z" fill="url(#dg)" stroke="#1d84c4" stroke-width="0.5"/></g>
<g transform="translate(141.0,97.0) rotate(-35)"><path d="M0,-4.6 C1.6,-3.2 3.1,-1.2 3.1,0.9 A3.1,3.1 0 0 1 -3.1,0.9 C-3.1,-1.2 -1.6,-3.2 0,-4.6 Z" fill="url(#dg)" stroke="#1d84c4" stroke-width="0.5"/></g>
<g transform="translate(107.0,106.3) rotate(-35)"><path d="M0,-4.6 C1.6,-3.2 3.1,-1.2 3.1,0.9 A3.1,3.1 0 0 1 -3.1,0.9 C-3.1,-1.2 -1.6,-3.2 0,-4.6 Z" fill="url(#dg)" stroke="#1d84c4" stroke-width="0.5"/></g>
<g transform="translate(120.2,106.3) rotate(-35)"><path d="M0,-4.6 C1.6,-3.2 3.1,-1.2 3.1,0.9 A3.1,3.1 0 0 1 -3.1,0.9 C-3.1,-1.2 -1.6,-3.2 0,-4.6 Z" fill="url(#dg)" stroke="#1d84c4" stroke-width="0.5"/></g>
<g transform="translate(134.1,106.3) rotate(-35)"><path d="M0,-4.6 C1.6,-3.2 3.1,-1.2 3.1,0.9 A3.1,3.1 0 0 1 -3.1,0.9 C-3.1,-1.2 -1.6,-3.2 0,-4.6 Z" fill="url(#dg)" stroke="#1d84c4" stroke-width="0.5"/></g>
<g transform="translate(148.0,106.3) rotate(-35)"><path d="M0,-4.6 C1.6,-3.2 3.1,-1.2 3.1,0.9 A3.1,3.1 0 0 1 -3.1,0.9 C-3.1,-1.2 -1.6,-3.2 0,-4.6 Z" fill="url(#dg)" stroke="#1d84c4" stroke-width="0.5"/></g>
<g transform="translate(113.9,115.8) rotate(-35)"><path d="M0,-4.6 C1.6,-3.2 3.1,-1.2 3.1,0.9 A3.1,3.1 0 0 1 -3.1,0.9 C-3.1,-1.2 -1.6,-3.2 0,-4.6 Z" fill="url(#dg)" stroke="#1d84c4" stroke-width="0.5"/></g>
<g transform="translate(127.1,115.8) rotate(-35)"><path d="M0,-4.6 C1.6,-3.2 3.1,-1.2 3.1,0.9 A3.1,3.1 0 0 1 -3.1,0.9 C-3.1,-1.2 -1.6,-3.2 0,-4.6 Z" fill="url(#dg)" stroke="#1d84c4" stroke-width="0.5"/></g>
<g transform="translate(141.0,115.8) rotate(-35)"><path d="M0,-4.6 C1.6,-3.2 3.1,-1.2 3.1,0.9 A3.1,3.1 0 0 1 -3.1,0.9 C-3.1,-1.2 -1.6,-3.2 0,-4.6 Z" fill="url(#dg)" stroke="#1d84c4" stroke-width="0.5"/></g>
<path d="M266.3,67.7L268.9,83.0L263.7,83.0ZM274.0,75.5L272.4,84.6L268.6,83.0ZM282.6,77.7L275.9,88.1L272.2,84.4ZM284.8,86.3L277.3,91.7L275.7,87.9ZM292.6,94.0L277.3,96.6L277.3,91.4ZM284.8,101.7L275.7,100.1L277.3,96.3ZM282.6,110.3L272.2,103.6L275.9,99.9ZM274.0,112.5L268.6,105.0L272.4,103.4ZM266.3,120.3L263.7,105.0L268.9,105.0ZM258.6,112.5L260.2,103.4L264.0,105.0ZM250.0,110.3L256.7,99.9L260.4,103.6ZM247.8,101.7L255.3,96.3L256.9,100.1ZM240.0,94.0L255.3,91.4L255.3,96.6ZM247.8,86.3L256.9,87.9L255.3,91.7ZM250.0,77.7L260.4,84.4L256.7,88.1ZM258.6,75.5L264.0,83.0L260.2,84.6Z" fill="#fcc620" stroke="#e99a10" stroke-width="0.45"/><circle cx="266.29999999999995" cy="94" r="14.8" fill="url(#sg)" stroke="#e89400" stroke-width="0.7"/>
<g transform="translate(255.4,86.2) scale(0.990,0.991)"><path d="M5.5,23 A6,6 0 0 1 1,13.5 A6,6 0 0 1 6.5,8.5 A13,13 0 0 1 31,8.5 A7,7 0 0 1 38.8,16 A7,7 0 0 1 33,23 Z" fill="url(#cg)" stroke="#9a9a9a" stroke-width="1"/></g>
<g transform="translate(260.9,105.7) rotate(-35)"><path d="M0,-4.6 C1.6,-3.2 3.1,-1.2 3.1,0.9 A3.1,3.1 0 0 1 -3.1,0.9 C-3.1,-1.2 -1.6,-3.2 0,-4.6 Z" fill="url(#dg)" stroke="#1d84c4" stroke-width="0.5"/></g>
<g transform="translate(274.2,105.7) rotate(-35)"><path d="M0,-4.6 C1.6,-3.2 3.1,-1.2 3.1,0.9 A3.1,3.1 0 0 1 -3.1,0.9 C-3.1,-1.2 -1.6,-3.2 0,-4.6 Z" fill="url(#dg)" stroke="#1d84c4" stroke-width="0.5"/></g>
<g transform="translate(288.7,105.7) rotate(-35)"><path d="M0,-4.6 C1.6,-3.2 3.1,-1.2 3.1,0.9 A3.1,3.1 0 0 1 -3.1,0.9 C-3.1,-1.2 -1.6,-3.2 0,-4.6 Z" fill="url(#dg)" stroke="#1d84c4" stroke-width="0.5"/></g>
<g transform="translate(266.6,115.8) rotate(-35)"><path d="M0,-4.6 C1.6,-3.2 3.1,-1.2 3.1,0.9 A3.1,3.1 0 0 1 -3.1,0.9 C-3.1,-1.2 -1.6,-3.2 0,-4.6 Z" fill="url(#dg)" stroke="#1d84c4" stroke-width="0.5"/></g>
<g transform="translate(280.5,115.8) rotate(-35)"><path d="M0,-4.6 C1.6,-3.2 3.1,-1.2 3.1,0.9 A3.1,3.1 0 0 1 -3.1,0.9 C-3.1,-1.2 -1.6,-3.2 0,-4.6 Z" fill="url(#dg)" stroke="#1d84c4" stroke-width="0.5"/></g>
<path d="M402.9,67.7L405.5,83.0L400.3,83.0ZM410.6,75.5L409.0,84.6L405.2,83.0ZM419.2,77.7L412.5,88.1L408.8,84.4ZM421.4,86.3L413.9,91.7L412.3,87.9ZM429.2,94.0L413.9,96.6L413.9,91.4ZM421.4,101.7L412.3,100.1L413.9,96.3ZM419.2,110.3L408.8,103.6L412.5,99.9ZM410.6,112.5L405.2,105.0L409.0,103.4ZM402.9,120.3L400.3,105.0L405.5,105.0ZM395.2,112.5L396.8,103.4L400.6,105.0ZM386.6,110.3L393.3,99.9L397.0,103.6ZM384.4,101.7L391.9,96.3L393.5,100.1ZM376.6,94.0L391.9,91.4L391.9,96.6ZM384.4,86.3L393.5,87.9L391.9,91.7ZM386.6,77.7L397.0,84.4L393.3,88.1ZM395.2,75.5L400.6,83.0L396.8,84.6Z" fill="#fcc620" stroke="#e99a10" stroke-width="0.45"/><circle cx="402.9" cy="94" r="14.8" fill="url(#sg)" stroke="#e89400" stroke-width="0.7"/>
<g transform="translate(392.0,86.2) scale(0.990,0.991)"><path d="M5.5,23 A6,6 0 0 1 1,13.5 A6,6 0 0 1 6.5,8.5 A13,13 0 0 1 31,8.5 A7,7 0 0 1 38.8,16 A7,7 0 0 1 33,23 Z" fill="url(#cg)" stroke="#9a9a9a" stroke-width="1"/></g>
<g transform="translate(397.5,105.7) rotate(-35)"><path d="M0,-4.6 C1.6,-3.2 3.1,-1.2 3.1,0.9 A3.1,3.1 0 0 1 -3.1,0.9 C-3.1,-1.2 -1.6,-3.2 0,-4.6 Z" fill="url(#dg)" stroke="#1d84c4" stroke-width="0.5"/></g>
<g transform="translate(410.8,105.7) rotate(-35)"><path d="M0,-4.6 C1.6,-3.2 3.1,-1.2 3.1,0.9 A3.1,3.1 0 0 1 -3.1,0.9 C-3.1,-1.2 -1.6,-3.2 0,-4.6 Z" fill="url(#dg)" stroke="#1d84c4" stroke-width="0.5"/></g>
<g transform="translate(425.3,105.7) rotate(-35)"><path d="M0,-4.6 C1.6,-3.2 3.1,-1.2 3.1,0.9 A3.1,3.1 0 0 1 -3.1,0.9 C-3.1,-1.2 -1.6,-3.2 0,-4.6 Z" fill="url(#dg)" stroke="#1d84c4" stroke-width="0.5"/></g>
<g transform="translate(403.2,115.8) rotate(-35)"><path d="M0,-4.6 C1.6,-3.2 3.1,-1.2 3.1,0.9 A3.1,3.1 0 0 1 -3.1,0.9 C-3.1,-1.2 -1.6,-3.2 0,-4.6 Z" fill="url(#dg)" stroke="#1d84c4" stroke-width="0.5"/></g>
<g transform="translate(417.1,115.8) rotate(-35)"><path d="M0,-4.6 C1.6,-3.2 3.1,-1.2 3.1,0.9 A3.1,3.1 0 0 1 -3.1,0.9 C-3.1,-1.2 -1.6,-3.2 0,-4.6 Z" fill="url(#dg)" stroke="#1d84c4" stroke-width="0.5"/></g>
<path d="M539.5,67.7L542.1,83.0L536.9,83.0ZM547.2,75.5L545.6,84.6L541.8,83.0ZM555.8,77.7L549.1,88.1L545.4,84.4ZM558.0,86.3L550.5,91.7L548.9,87.9ZM565.8,94.0L550.5,96.6L550.5,91.4ZM558.0,101.7L548.9,100.1L550.5,96.3ZM555.8,110.3L545.4,103.6L549.1,99.9ZM547.2,112.5L541.8,105.0L545.6,103.4ZM539.5,120.3L536.9,105.0L542.1,105.0ZM531.8,112.5L533.4,103.4L537.2,105.0ZM523.2,110.3L529.9,99.9L533.6,103.6ZM521.0,101.7L528.5,96.3L530.1,100.1ZM513.2,94.0L528.5,91.4L528.5,96.6ZM521.0,86.3L530.1,87.9L528.5,91.7ZM523.2,77.7L533.6,84.4L529.9,88.1ZM531.8,75.5L537.2,83.0L533.4,84.6Z" fill="#fcc620" stroke="#e99a10" stroke-width="0.45"/><circle cx="539.5" cy="94" r="14.8" fill="url(#sg)" stroke="#e89400" stroke-width="0.7"/>
<g transform="translate(528.6,86.2) scale(0.990,0.991)"><path d="M5.5,23 A6,6 0 0 1 1,13.5 A6,6 0 0 1 6.5,8.5 A13,13 0 0 1 31,8.5 A7,7 0 0 1 38.8,16 A7,7 0 0 1 33,23 Z" fill="url(#cg)" stroke="#9a9a9a" stroke-width="1"/></g>
<path d="M676.1,67.7L678.7,83.0L673.5,83.0ZM683.8,75.5L682.2,84.6L678.4,83.0ZM692.4,77.7L685.7,88.1L682.0,84.4ZM694.6,86.3L687.1,91.7L685.5,87.9ZM702.4,94.0L687.1,96.6L687.1,91.4ZM694.6,101.7L685.5,100.1L687.1,96.3ZM692.4,110.3L682.0,103.6L685.7,99.9ZM683.8,112.5L678.4,105.0L682.2,103.4ZM676.1,120.3L673.5,105.0L678.7,105.0ZM668.4,112.5L670.0,103.4L673.8,105.0ZM659.8,110.3L666.5,99.9L670.2,103.6ZM657.6,101.7L665.1,96.3L666.7,100.1ZM649.8,94.0L665.1,91.4L665.1,96.6ZM657.6,86.3L666.7,87.9L665.1,91.7ZM659.8,77.7L670.2,84.4L666.5,88.1ZM668.4,75.5L673.8,83.0L670.0,84.6Z" fill="#fcc620" stroke="#e99a10" stroke-width="0.45"/><circle cx="676.0999999999999" cy="94" r="14.8" fill="url(#sg)" stroke="#e89400" stroke-width="0.7"/>
<g transform="translate(665.2,86.2) scale(0.990,0.991)"><path d="M5.5,23 A6,6 0 0 1 1,13.5 A6,6 0 0 1 6.5,8.5 A13,13 0 0 1 31,8.5 A7,7 0 0 1 38.8,16 A7,7 0 0 1 33,23 Z" fill="url(#cg)" stroke="#9a9a9a" stroke-width="1"/></g>
<path d="M812.7,67.7L815.3,83.0L810.1,83.0ZM820.4,75.5L818.8,84.6L815.0,83.0ZM829.0,77.7L822.3,88.1L818.6,84.4ZM831.2,86.3L823.7,91.7L822.1,87.9ZM839.0,94.0L823.7,96.6L823.7,91.4ZM831.2,101.7L822.1,100.1L823.7,96.3ZM829.0,110.3L818.6,103.6L822.3,99.9ZM820.4,112.5L815.0,105.0L818.8,103.4ZM812.7,120.3L810.1,105.0L815.3,105.0ZM805.0,112.5L806.6,103.4L810.4,105.0ZM796.4,110.3L803.1,99.9L806.8,103.6ZM794.2,101.7L801.7,96.3L803.3,100.1ZM786.4,94.0L801.7,91.4L801.7,96.6ZM794.2,86.3L803.3,87.9L801.7,91.7ZM796.4,77.7L806.8,84.4L803.1,88.1ZM805.0,75.5L810.4,83.0L806.6,84.6Z" fill="#fcc620" stroke="#e99a10" stroke-width="0.45"/><circle cx="812.6999999999999" cy="94" r="14.8" fill="url(#sg)" stroke="#e89400" stroke-width="0.7"/>
<g transform="translate(801.8,86.2) scale(0.990,0.991)"><path d="M5.5,23 A6,6 0 0 1 1,13.5 A6,6 0 0 1 6.5,8.5 A13,13 0 0 1 31,8.5 A7,7 0 0 1 38.8,16 A7,7 0 0 1 33,23 Z" fill="url(#cg)" stroke="#9a9a9a" stroke-width="1"/></g>
<g transform="translate(807.3,105.7) rotate(-35)"><path d="M0,-4.6 C1.6,-3.2 3.1,-1.2 3.1,0.9 A3.1,3.1 0 0 1 -3.1,0.9 C-3.1,-1.2 -1.6,-3.2 0,-4.6 Z" fill="url(#dg)" stroke="#1d84c4" stroke-width="0.5"/></g>
<g transform="translate(820.6,105.7) rotate(-35)"><path d="M0,-4.6 C1.6,-3.2 3.1,-1.2 3.1,0.9 A3.1,3.1 0 0 1 -3.1,0.9 C-3.1,-1.2 -1.6,-3.2 0,-4.6 Z" fill="url(#dg)" stroke="#1d84c4" stroke-width="0.5"/></g>
<g transform="translate(835.1,105.7) rotate(-35)"><path d="M0,-4.6 C1.6,-3.2 3.1,-1.2 3.1,0.9 A3.1,3.1 0 0 1 -3.1,0.9 C-3.1,-1.2 -1.6,-3.2 0,-4.6 Z" fill="url(#dg)" stroke="#1d84c4" stroke-width="0.5"/></g>
<g transform="translate(813.0,115.8) rotate(-35)"><path d="M0,-4.6 C1.6,-3.2 3.1,-1.2 3.1,0.9 A3.1,3.1 0 0 1 -3.1,0.9 C-3.1,-1.2 -1.6,-3.2 0,-4.6 Z" fill="url(#dg)" stroke="#1d84c4" stroke-width="0.5"/></g>
<g transform="translate(826.9,115.8) rotate(-35)"><path d="M0,-4.6 C1.6,-3.2 3.1,-1.2 3.1,0.9 A3.1,3.1 0 0 1 -3.1,0.9 C-3.1,-1.2 -1.6,-3.2 0,-4.6 Z" fill="url(#dg)" stroke="#1d84c4" stroke-width="0.5"/></g>
<path d="M949.3,67.7L951.9,83.0L946.7,83.0ZM957.0,75.5L955.4,84.6L951.6,83.0ZM965.6,77.7L958.9,88.1L955.2,84.4ZM967.8,86.3L960.3,91.7L958.7,87.9ZM975.6,94.0L960.3,96.6L960.3,91.4ZM967.8,101.7L958.7,100.1L960.3,96.3ZM965.6,110.3L955.2,103.6L958.9,99.9ZM957.0,112.5L951.6,105.0L955.4,103.4ZM949.3,120.3L946.7,105.0L951.9,105.0ZM941.6,112.5L943.2,103.4L947.0,105.0ZM933.0,110.3L939.7,99.9L943.4,103.6ZM930.8,101.7L938.3,96.3L939.9,100.1ZM923.0,94.0L938.3,91.4L938.3,96.6ZM930.8,86.3L939.9,87.9L938.3,91.7ZM933.0,77.7L943.4,84.4L939.7,88.1ZM941.6,75.5L947.0,83.0L943.2,84.6Z" fill="#fcc620" stroke="#e99a10" stroke-width="0.45"/><circle cx="949.3" cy="94" r="14.8" fill="url(#sg)" stroke="#e89400" stroke-width="0.7"/>
<g transform="translate(938.4,86.2) scale(0.990,0.991)"><path d="M5.5,23 A6,6 0 0 1 1,13.5 A6,6 0 0 1 6.5,8.5 A13,13 0 0 1 31,8.5 A7,7 0 0 1 38.8,16 A7,7 0 0 1 33,23 Z" fill="url(#cg)" stroke="#9a9a9a" stroke-width="1"/></g>
<g transform="translate(943.9,105.7) rotate(-35)"><path d="M0,-4.6 C1.6,-3.2 3.1,-1.2 3.1,0.9 A3.1,3.1 0 0 1 -3.1,0.9 C-3.1,-1.2 -1.6,-3.2 0,-4.6 Z" fill="url(#dg)" stroke="#1d84c4" stroke-width="0.5"/></g>
<g transform="translate(957.2,105.7) rotate(-35)"><path d="M0,-4.6 C1.6,-3.2 3.1,-1.2 3.1,0.9 A3.1,3.1 0 0 1 -3.1,0.9 C-3.1,-1.2 -1.6,-3.2 0,-4.6 Z" fill="url(#dg)" stroke="#1d84c4" stroke-width="0.5"/></g>
<g transform="translate(971.7,105.7) rotate(-35)"><path d="M0,-4.6 C1.6,-3.2 3.1,-1.2 3.1,0.9 A3.1,3.1 0 0 1 -3.1,0.9 C-3.1,-1.2 -1.6,-3.2 0,-4.6 Z" fill="url(#dg)" stroke="#1d84c4" stroke-width="0.5"/></g>
<g transform="translate(949.6,115.8) rotate(-35)"><path d="M0,-4.6 C1.6,-3.2 3.1,-1.2 3.1,0.9 A3.1,3.1 0 0 1 -3.1,0.9 C-3.1,-1.2 -1.6,-3.2 0,-4.6 Z" fill="url(#dg)" stroke="#1d84c4" stroke-width="0.5"/></g>
<g transform="translate(963.5,115.8) rotate(-35)"><path d="M0,-4.6 C1.6,-3.2 3.1,-1.2 3.1,0.9 A3.1,3.1 0 0 1 -3.1,0.9 C-3.1,-1.2 -1.6,-3.2 0,-4.6 Z" fill="url(#dg)" stroke="#1d84c4" stroke-width="0.5"/></g>
</svg></body></html>
